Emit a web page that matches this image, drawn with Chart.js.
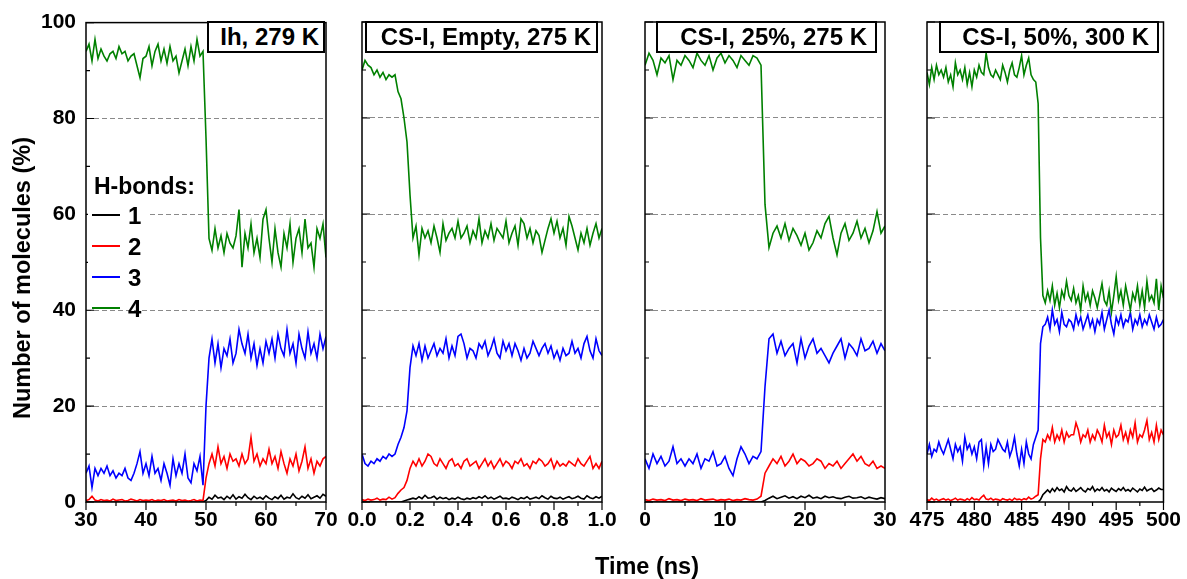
<!DOCTYPE html>
<html>
<head>
<meta charset="utf-8">
<script src="https://cdn.jsdelivr.net/npm/chart.js@4.4.0/dist/chart.umd.min.js"></script>
<style>
  body { margin: 0; background: #fff; }
  #wrap { position: relative; width: 1187px; height: 579px; overflow: hidden;
          font-family: "Liberation Sans", Arial, sans-serif; font-weight: bold; color: #000; }
  canvas { position: absolute; left: 0; top: 0; }
  .tag { position: absolute; top: 21px; height: 32px; box-sizing: border-box; border: 2px solid #000;
         background: #fff; font-size: 24px; line-height: 28px; text-align: right; white-space: nowrap; }
  .ytitle { position: absolute; left: -128px; top: 264px; width: 300px; line-height: 28px; font-size: 23.5px;
            text-align: center; transform: rotate(-90deg); white-space: nowrap; }
  .xtitle { position: absolute; left: 547px; top: 552px; width: 200px; line-height: 28px; font-size: 23.5px;
            text-align: center; }
  .lgbg { position: absolute; left: 88px; top: 200px; width: 62px; height: 100px; background: #fff; }
  .lghead { position: absolute; left: 94px; top: 172px; font-size: 23px; line-height: 28px; white-space: nowrap; }
  .lgline { position: absolute; left: 92px; width: 28px; height: 2px; }
  .lgnum { position: absolute; left: 128px; font-size: 24px; line-height: 28px; }
</style>
</head>
<body>
<div id="wrap">
  <canvas id="c1" width="1187" height="579"></canvas>
  <canvas id="c2" width="1187" height="579"></canvas>
  <canvas id="c3" width="1187" height="579"></canvas>
  <canvas id="c4" width="1187" height="579"></canvas>

  <div class="tag" style="left:207px;width:118px;padding-right:4px">Ih, 279 K</div>
  <div class="tag" style="left:365px;width:233px;padding-right:5px">CS-I, Empty, 275 K</div>
  <div class="tag" style="left:656px;width:221px;padding-right:8px">CS-I, 25%, 275 K</div>
  <div class="tag" style="left:939px;width:220px;padding-right:8px">CS-I, 50%, 300 K</div>

  <div class="lgbg"></div>
  <div class="lghead">H-bonds:</div>
  <div class="lgline" style="top:214px;background:#000"></div><div class="lgnum" style="top:202px">1</div>
  <div class="lgline" style="top:245px;background:#ff0000"></div><div class="lgnum" style="top:233px">2</div>
  <div class="lgline" style="top:276px;background:#0000ff"></div><div class="lgnum" style="top:264px">3</div>
  <div class="lgline" style="top:307px;background:#008000"></div><div class="lgnum" style="top:295px">4</div>

  <div class="ytitle">Number of molecules (%)</div>
  <div class="xtitle">Time (ns)</div>
</div>

<script>
// ---- panel 1: Ih, 279 K ----
const t1 = [30, 30.5, 31, 31.5, 32, 32.5, 33, 33.5, 34, 34.5,
  35, 35.5, 36, 36.5, 37, 37.5, 38, 38.5, 39, 39.5,
  40, 40.5, 41, 41.5, 42, 42.5, 43, 43.5, 44, 44.5,
  45, 45.5, 46, 46.5, 47, 47.5, 48, 48.5, 49, 49.5,
  50, 50.5, 51, 51.5, 52, 52.5, 53, 53.5, 54, 54.5,
  55, 55.5, 56, 56.5, 57, 57.5, 58, 58.5, 59, 59.5,
  60, 60.5, 61, 61.5, 62, 62.5, 63, 63.5, 64, 64.5,
  65, 65.5, 66, 66.5, 67, 67.5, 68, 68.5, 69, 69.5,
  70];
const k1 = [0, 0, 0, 0, 0, 0, 0, 0, 0, 0,
  0, 0, 0, 0, 0, 0, 0, 0, 0, 0,
  0, 0, 0, 0, 0, 0, 0, 0, 0, 0,
  0, 0, 0, 0, 0, 0, 0, 0, 0, 0,
  0.3, 1, 0.6, 1.4, 0.8, 1, 0.5, 1.2, 0.7, 1.5,
  0.6, 1.1, 0.8, 1.6, 0.9, 0.5, 1.2, 0.7, 1, 0.6,
  1.3, 0.8, 0.5, 1.1, 0.7, 1.4, 0.6, 1, 0.8, 1.7,
  0.9, 0.6, 1.2, 0.8, 1.5, 0.7, 1, 1.3, 0.8, 1.6,
  1.2];
const r1 = [0.3, 0.5, 1.2, 0.4, 0.2, 0.5, 0.3, 0.4, 0.2, 0.6,
  0.3, 0.4, 0.5, 0.2, 0.3, 0.6, 0.4, 0.2, 0.5, 0.3,
  0.4, 0.3, 0.5, 0.2, 0.4, 0.3, 0.5, 0.2, 0.3, 0.4,
  0.2, 0.5, 0.3, 0.4, 0.2, 0.3, 0.5, 0.2, 0.4, 0.3,
  5, 8, 10, 7.5, 11.5, 8, 9.5, 7, 10, 8.5,
  9, 7.5, 10, 8, 9, 13.5, 8.5, 10, 7.5, 9,
  8, 11, 8, 9.5, 7, 10.5, 8, 6, 9, 7.5,
  10, 6.5, 8.5, 11.5, 7, 9, 6, 8.5, 7.5, 9,
  9.5];
const b1 = [6, 7.5, 3, 7, 5.5, 7, 6, 7.5, 5.5, 6.5,
  5, 6, 5.5, 7, 5, 4.5, 6, 8, 10.5, 6,
  8, 5.5, 9.5, 6, 7, 4.5, 8, 6, 3.5, 9,
  5.5, 8, 6, 10, 5, 4, 8, 6.5, 9.5, 3.5,
  20, 30, 34, 29, 33, 28, 32, 30.5, 34, 29,
  31, 36, 33, 31, 35, 30, 33, 28.5, 32, 29,
  33.5, 31, 34, 30, 35, 32, 30.5, 36, 31, 33,
  29, 35, 32, 30, 35.5, 31, 33, 30, 35, 32,
  34.5];
const g1 = [94, 95.5, 92, 96.5, 92.5, 94.5, 93, 92, 93.5, 94,
  92.5, 95, 93.5, 94, 92, 93, 93.5, 91, 88.5, 92.5,
  93, 95, 91, 94, 95.5, 92, 94.5, 91.5, 95, 92,
  93, 89.5, 92, 94.5, 91, 95, 92, 96.5, 93, 94,
  76, 55, 52.5, 57, 53, 55.5, 52, 56, 54, 53,
  55.5, 61, 49, 56, 53, 58, 52, 55, 51, 59,
  61, 55, 50, 57, 52, 49, 56, 53, 58, 50,
  55, 57, 52, 59, 53, 54, 49, 57, 55, 58,
  51];

// ---- panel 2: CS-I, Empty, 275 K ----
const t2 = [0, .0125, .025, .0375, .05, .0625, .075, .0875, .1, .1125,
  .125, .1375, .15, .1625, .175, .1875, .2, .2125, .225, .2375,
  .25, .2625, .275, .2875, .3, .3125, .325, .3375, .35, .3625,
  .375, .3875, .4, .4125, .425, .4375, .45, .4625, .475, .4875,
  .5, .5125, .525, .5375, .55, .5625, .575, .5875, .6, .6125,
  .625, .6375, .65, .6625, .675, .6875, .7, .7125, .725, .7375,
  .75, .7625, .775, .7875, .8, .8125, .825, .8375, .85, .8625,
  .875, .8875, .9, .9125, .925, .9375, .95, .9625, .975, .9875,
  1];
const k2 = [0, 0, 0, 0, 0, 0, 0, 0, 0, 0,
  0, 0, 0, 0, 0.2, 0.4, 0.6, 0.8, 0.6, 1.1,
  0.7, 1.4, 0.8, 0.9, 1.2, 0.6, 1, 0.7, 0.9, 0.5,
  0.8, 0.6, 1, 0.7, 0.5, 0.8, 0.6, 0.9, 0.7, 1.1,
  0.8, 1.3, 0.7, 1, 0.6, 0.9, 1.2, 0.7, 0.8, 0.6,
  1, 0.8, 0.5, 0.9, 0.7, 1.1, 0.6, 0.8, 1, 0.7,
  1.3, 0.9, 0.6, 1.2, 0.8, 0.7, 1, 0.6, 0.9, 1.1,
  0.7, 0.9, 1.2, 0.8, 0.6, 1.3, 0.9, 0.7, 1.1, 0.8,
  1.2];
const r2 = [0.5, 0.3, 0.6, 0.4, 0.5, 0.8, 0.4, 0.6, 0.5, 1,
  0.6, 0.9, 1.8, 2.5, 3, 4.5, 7, 8.5, 7.5, 9,
  7.5, 8.5, 10, 9.5, 8, 7.5, 9, 8, 7, 8.5,
  9, 7.5, 8, 7, 8.5, 9, 7.5, 8, 8.5, 7,
  8, 9, 7.5, 8.5, 7, 8, 9, 7.5, 8.5, 8,
  7, 8.5, 8, 9, 7.5, 8, 7, 8.5, 8, 9,
  8.5, 7.5, 8, 9, 7, 8.5, 7.5, 8, 7.5, 8.5,
  8, 7.5, 9, 8, 7.5, 8.5, 9.5, 7, 8, 7,
  8.5];
const b2 = [10, 8, 7.5, 8.5, 8, 9, 8.5, 9.5, 9, 10,
  9.5, 10, 12, 13.5, 15.5, 19, 28, 32.5, 30.5, 33,
  29.5, 32.5, 30, 31.5, 33, 30.5, 32, 31, 34, 30,
  32.5, 30.5, 34.5, 35, 33, 30, 32, 31.5, 30, 33,
  32, 33.5, 30.5, 32, 34, 31, 30, 33.5, 31.5, 33,
  30.5, 33, 31.5, 29.5, 32, 30, 31, 33.5, 32, 30.5,
  32, 33, 31, 32.5, 30, 31.5, 29.5, 32, 30.5, 31,
  33.5, 31, 32, 30, 33, 34.5, 31.5, 30, 34, 31.5,
  30.5];
const g2 = [90, 92, 91, 90.5, 89, 90, 88.5, 89.5, 88, 89,
  88.5, 89, 85.5, 84, 80, 75, 64, 55, 57.5, 51.5,
  57, 55, 56.5, 54, 57.5, 55, 52, 58, 54.5, 56,
  57, 55, 58.5, 55, 56, 57.5, 54, 56.5, 55, 59,
  54, 56.5, 55, 58, 54.5, 57, 56, 55, 58.5, 54,
  56, 57.5, 53.5, 59, 58, 55, 57, 54, 56.5, 55.5,
  52, 54.5, 57, 59, 56, 58.5, 55, 57, 53.5, 59.5,
  57.5, 55, 52.5, 56, 54, 57, 53.5, 56, 58, 55,
  57];

// ---- panel 3: CS-I, 25%, 275 K ----
const t3 = [0, 0.5, 1, 1.5, 2, 2.5, 3, 3.5, 4, 4.5,
  5, 5.5, 6, 6.5, 7, 7.5, 8, 8.5, 9, 9.5,
  10, 10.5, 11, 11.5, 12, 12.5, 13, 13.5, 14, 14.5,
  15, 15.5, 16, 16.5, 17, 17.5, 18, 18.5, 19, 19.5,
  20, 20.5, 21, 21.5, 22, 22.5, 23, 23.5, 24, 24.5,
  25, 25.5, 26, 26.5, 27, 27.5, 28, 28.5, 29, 29.5,
  30];
const k3 = [0, 0, 0, 0, 0, 0, 0, 0, 0, 0,
  0, 0, 0, 0, 0, 0, 0, 0, 0, 0,
  0, 0, 0, 0, 0, 0, 0, 0, 0, 0,
  0.3, 0.8, 1.2, 0.7, 1, 1.3, 0.8, 1.1, 0.7, 1.2,
  0.9, 1.4, 0.8, 1, 0.7, 1.2, 0.9, 1.1, 0.8, 0.7,
  1, 1.2, 0.8, 0.9, 1.1, 0.7, 1, 0.8, 0.6, 0.9,
  0.7];
const r3 = [0.5, 0.3, 0.6, 0.4, 0.5, 0.3, 0.7, 0.4, 0.5, 0.3,
  0.6, 0.4, 0.5, 0.3, 0.7, 0.4, 0.5, 0.6, 0.3, 0.5,
  0.4, 0.6, 0.3, 0.5, 0.4, 0.7, 0.5, 0.4, 0.6, 1.2,
  6, 7.5, 9, 8, 9.5, 7.5, 8.5, 10, 8, 9,
  8.5, 7.5, 8, 9, 8.5, 7, 8, 7.5, 8.5, 7,
  8, 9, 10, 8.5, 9.5, 8, 7.5, 8.5, 7, 7.5,
  7];
const b3 = [9, 7, 10, 8, 9.5, 7.5, 8.5, 11.5, 8, 9,
  7.5, 9, 8, 10, 7, 9, 8.5, 10.5, 7.5, 8,
  9.5, 7, 5.5, 9, 11.5, 10, 8, 9.5, 9, 10.5,
  24, 34, 35, 31, 33.5, 30.5, 32, 33, 29, 34,
  30, 32.5, 34, 31, 32, 30.5, 29, 31, 32.5, 34,
  30, 33, 32, 30.5, 34, 31.5, 32, 33.5, 31, 33,
  31.5];
const g3 = [91, 93.5, 92, 89, 92.5, 91.5, 93, 88, 92, 91,
  93, 92, 90.5, 93.5, 92, 91, 93, 90, 92.5, 93.5,
  91.5, 93, 92, 90.5, 93, 92, 91, 93, 92.5, 91,
  62, 53, 56, 57.5, 55, 58, 54.5, 57, 55.5, 53.5,
  56, 52.5, 54, 56.5, 55, 58, 59.5, 55, 51.5, 56,
  58, 54.5, 56, 58.5, 55, 57, 54, 56.5, 60.5, 56,
  57.5];

// ---- panel 4: CS-I, 50%, 300 K ----
const t4 = [475, 475.25, 475.5, 475.75, 476, 476.25, 476.5, 476.75, 477, 477.25,
  477.5, 477.75, 478, 478.25, 478.5, 478.75, 479, 479.25, 479.5, 479.75,
  480, 480.25, 480.5, 480.75, 481, 481.25, 481.5, 481.75, 482, 482.25,
  482.5, 482.75, 483, 483.25, 483.5, 483.75, 484, 484.25, 484.5, 484.75,
  485, 485.25, 485.5, 485.75, 486, 486.25, 486.5, 486.75, 487, 487.25,
  487.5, 487.75, 488, 488.25, 488.5, 488.75, 489, 489.25, 489.5, 489.75,
  490, 490.25, 490.5, 490.75, 491, 491.25, 491.5, 491.75, 492, 492.25,
  492.5, 492.75, 493, 493.25, 493.5, 493.75, 494, 494.25, 494.5, 494.75,
  495, 495.25, 495.5, 495.75, 496, 496.25, 496.5, 496.75, 497, 497.25,
  497.5, 497.75, 498, 498.25, 498.5, 498.75, 499, 499.25, 499.5, 499.75,
  500];
const k4 = [0, 0, 0, 0, 0, 0, 0, 0, 0, 0,
  0, 0, 0, 0, 0, 0, 0, 0, 0, 0,
  0, 0, 0, 0, 0, 0, 0, 0, 0, 0,
  0, 0, 0, 0, 0, 0, 0, 0, 0, 0,
  0, 0, 0, 0, 0, 0, 0, 0, 0.5, 1.5,
  2, 2.5, 2, 2.8, 2.2, 3, 2.4, 2.7, 2.1, 3.2,
  2.5, 2.3, 2.9, 2.2, 2.6, 3, 2.4, 2.1, 2.8, 2.5,
  3.2, 2.2, 2.7, 2.4, 3, 2.3, 2.6, 2.1, 2.9, 2.5,
  2.2, 2.8, 2.4, 3, 2.3, 2.6, 2.2, 2.9, 2.5, 2.1,
  2.7, 2.4, 3.1, 2.3, 2.6, 2.8, 2.2, 2.5, 2.9, 2.6,
  2.6];
const r4 = [0.5, 0.3, 0.8, 0.4, 0.6, 0.3, 0.5, 0.7, 0.4, 0.6,
  0.3, 0.5, 0.8, 0.4, 0.6, 0.5, 0.3, 0.7, 0.4, 0.9,
  0.5, 0.6, 0.4, 1, 1.4, 0.6, 0.5, 0.8, 0.4, 0.6,
  0.5, 0.3, 0.7, 0.5, 0.4, 0.6, 0.3, 0.8, 0.5, 0.6,
  0.4, 0.7, 0.5, 1, 0.6, 0.8, 1.2, 1.5, 9, 13,
  12.5, 14, 13, 15.5, 12.5, 14, 13, 15, 12.5, 14.5,
  13.5, 14, 14, 16.5, 15, 12.5, 14, 13.5, 15, 12.5,
  14, 13, 15, 14, 12.5, 16, 13.5, 14.5, 12, 15,
  13.5, 14, 16, 13, 14.5, 12.5, 15, 13.5, 16.5, 12.5,
  14, 13.5, 15, 17, 13, 14.5, 12.5, 16, 13, 15,
  14];
const b4 = [10, 12, 9.5, 11, 10.5, 12.5, 11, 10, 11.5, 13,
  11, 9, 12, 10.5, 11.5, 8.5, 13.5, 11, 12, 10,
  11.5, 9, 12.5, 13, 7.5, 11.5, 8, 12, 10.5, 11,
  13, 12, 11, 10.5, 12.5, 9.5, 11, 13.5, 10, 7.5,
  11, 8, 12.5, 10, 9, 12, 13.5, 15, 33, 36.5,
  37, 38.5, 36, 40, 37, 38, 35.5, 39.5, 37, 36.5,
  38, 37.5, 36, 39, 37, 38.5, 36, 37.5, 39, 36.5,
  38, 35.5, 38, 37, 39.5, 36, 38, 40, 37, 35,
  38.5, 37, 39, 36.5, 38, 37.5, 39.5, 36, 38, 37,
  39, 36.5, 38, 37, 39, 37.5, 36, 38.5, 36.5, 37,
  38];
const g4 = [89.5, 87, 90.5, 88, 91, 89, 90, 88.5, 90.5, 87.5,
  89, 86.5, 91.5, 89, 90, 88, 90.5, 87, 89.5, 86.5,
  90, 88.5, 91, 89.5, 89, 93.5, 90.5, 89, 88.5, 90,
  89, 88, 91, 89.5, 87.5, 90, 91.5, 89, 88.5, 90.5,
  93, 89, 91, 92.5, 89, 88, 87.5, 83, 55, 43,
  41.5, 44, 42, 45, 41, 43.5, 40.5, 44, 42.5, 46,
  43, 42, 44.5, 41.5, 43, 40, 45, 42, 43.5, 41,
  44, 42.5, 40.5, 43, 45.5, 42, 41, 44, 39.5, 43,
  47, 42, 44, 41, 45, 42.5, 40, 43.5, 42, 45,
  41, 44, 40.5, 46, 42, 43, 41.5, 46.5, 40, 45,
  42.5];

const seriesColors = ['#000000', '#ff0000', '#0000ff', '#008000'];
const yGridValues = [20, 40, 60, 80];
const FONT = '"Liberation Sans", Arial, sans-serif';

// frame + inward y ticks + outward x ticks
const frame = {
  id: 'frame',
  afterDraw(chart, args, o) {
    const { ctx, chartArea: a, scales: { x, y } } = chart;
    ctx.save();
    ctx.strokeStyle = '#000';
    ctx.lineWidth = 1.5;
    ctx.strokeRect(a.left, a.top, a.right - a.left, a.bottom - a.top);
    ctx.lineWidth = 1.2;
    ctx.beginPath();
    for (let v = 0; v <= 100; v += 10) {
      const py = y.getPixelForValue(v);
      const len = v % 20 ? 4 : 8;
      ctx.moveTo(a.left, py); ctx.lineTo(a.left + len, py);
    }
    const n = Math.round((x.max - x.min) / o.minor);
    for (let i = 0; i <= n; i++) {
      const px = x.getPixelForValue(x.min + i * o.minor);
      const len = i % 2 ? 4 : 8;
      ctx.moveTo(px, a.bottom); ctx.lineTo(px, a.bottom + len);
    }
    ctx.stroke();
    ctx.restore();
  }
};

function panel(id, t, k, r, b, g, xMin, xMax, major, minor, left, right, showY, fmt) {
  const vals = [k, r, b, g];
  new Chart(document.getElementById(id), {
    type: 'line',
    data: {
      labels: t,
      datasets: vals.map((d, i) => ({
        data: d,
        borderColor: seriesColors[i],
        borderWidth: 1.6,
        pointRadius: 0,
        tension: 0,
        fill: false,
        order: 3 - i
      }))
    },
    options: {
      responsive: false,
      animation: false,
      events: [],
      layout: { padding: { left: showY ? 0 : left, right: 1187 - right, top: 22, bottom: 0 } },
      plugins: { legend: { display: false }, tooltip: { enabled: false }, frame: { minor } },
      scales: {
        x: {
          type: 'linear', min: xMin, max: xMax,
          grid: { display: false, drawTicks: false },
          border: { display: false },
          ticks: {
            stepSize: major, autoSkip: false, maxRotation: 0, padding: 6, color: '#000',
            font: { family: FONT, size: 21, weight: 'bold' },
            callback: v => fmt(v)
          },
          afterFit: s => { s.height = 77; }
        },
        y: {
          min: 0, max: 100,
          grid: {
            drawTicks: false, lineWidth: 1,
            color: c => (c.tick && yGridValues.includes(c.tick.value)) ? '#8a8a8a' : 'rgba(0,0,0,0)'
          },
          border: { display: false, dash: [5, 3] },
          ticks: {
            display: showY, stepSize: 20, padding: 10, color: '#000',
            font: { family: FONT, size: 21, weight: 'bold' }
          },
          afterFit: s => { s.width = showY ? left : 0; }
        }
      }
    },
    plugins: [frame]
  });
}

panel('c1', t1, k1, r1, b1, g1, 30, 70, 10, 5, 86, 326, true, v => String(Math.round(v)));
panel('c2', t2, k2, r2, b2, g2, 0, 1, 0.2, 0.1, 362, 602, false, v => v.toFixed(1));
panel('c3', t3, k3, r3, b3, g3, 0, 30, 10, 5, 645, 885, false, v => String(Math.round(v)));
panel('c4', t4, k4, r4, b4, g4, 475, 500, 5, 2.5, 927, 1167, false, v => String(Math.round(v)));
</script>
</body>
</html>
